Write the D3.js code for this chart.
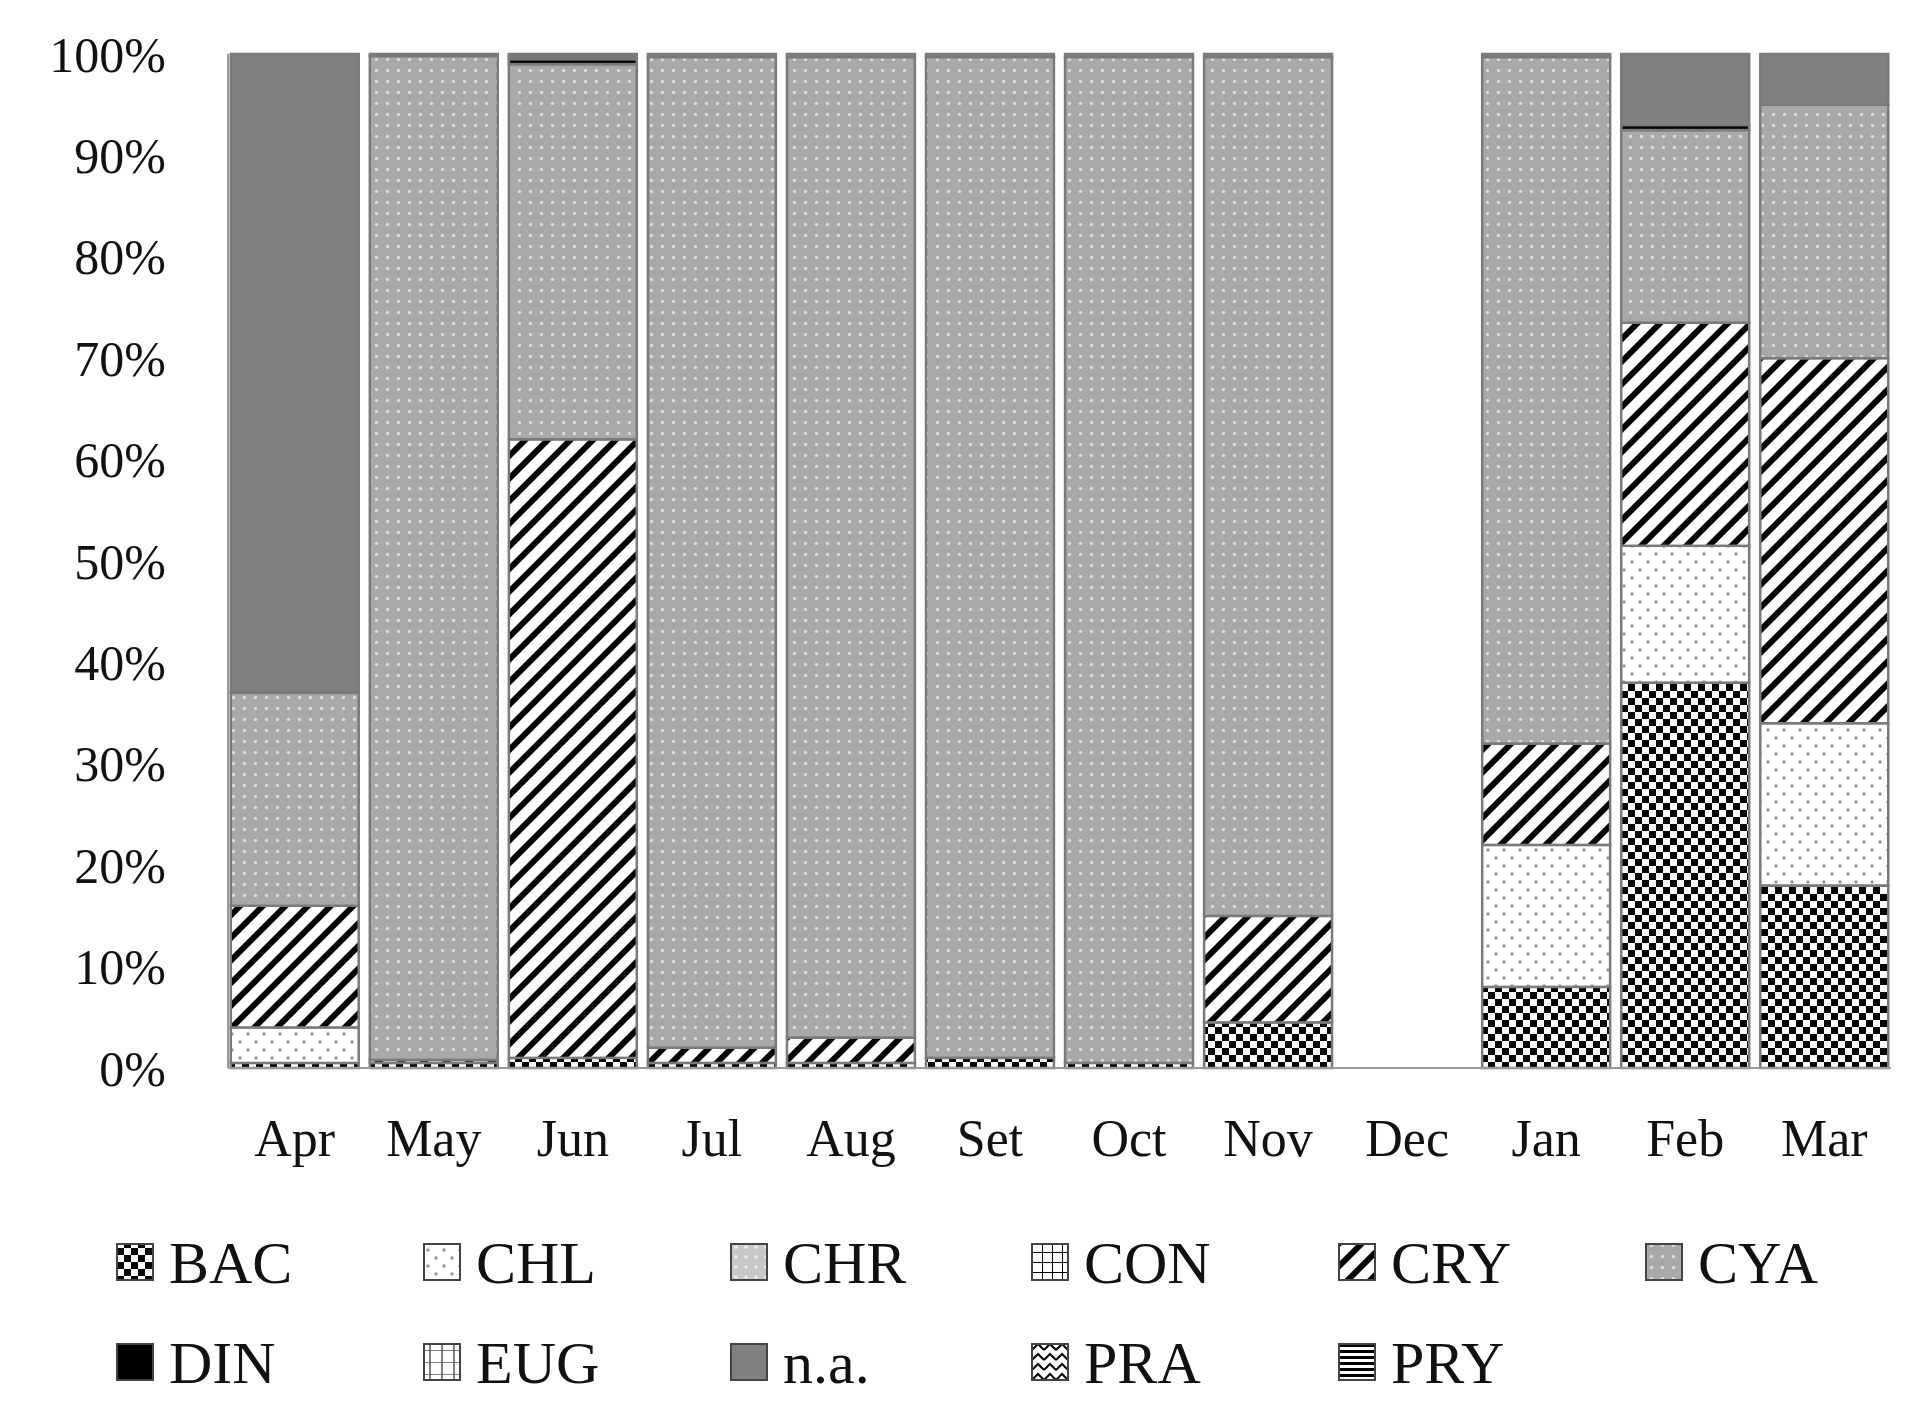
<!DOCTYPE html>
<html>
<head>
<style>
  body { margin: 0; background: #fff; }
  text { font-family: 'Liberation Serif', 'Times New Roman', serif; fill: #111; }
</style>
</head>
<body>
<svg width="1916" height="1411"></svg>
<script src="https://d3js.org/d3.v7.min.js"></script>
<script>
var months = ["Apr","May","Jun","Jul","Aug","Set","Oct","Nov","Dec","Jan","Feb","Mar"];
var groups = ["BAC","CHL","CHR","CON","CRY","CYA","DIN","EUG","n.a.","PRA","PRY"];
// percentages per group, one value per month
var BAC  = [0.5, 0.5, 1,   0.5, 0.5, 1,    0.5,  4.5, 0, 8,    38,   18];
var CHL  = [3.5, 0,   0,   0,   0,   0,    0,    0,   0, 14,   13.5, 16];
var CHR  = [0,   0,   0,   0,   0,   0,    0,    0,   0, 0,    0,    0];
var CON  = [0,   0,   0,   0,   0,   0,    0,    0,   0, 0,    0,    0];
var CRY  = [12,  0.3, 61,  1.5, 2.5, 0,    0,    10.5,0, 10,   22,   36];
var CYA  = [21,  99,  37,  97.7,96.7,98.7, 99.2, 84.7,0, 67.7, 19,   25];
var DIN  = [0,   0,   0.5, 0,   0,   0,    0,    0,   0, 0,    0.5,  0];
var EUG  = [0,   0,   0,   0,   0,   0,    0,    0,   0, 0,    0,    0];
var NA   = [63,  0.2, 0.3, 0.3, 0.3, 0.3,  0.3,  0.3, 0, 0.3,  7,    5];
var PRA  = [0,   0,   0,   0,   0,   0,    0,    0,   0, 0,    0,    0];
var PRY  = [0,   0,   0.2, 0,   0,   0,    0,    0,   0, 0,    0,    0];
var series = [BAC, CHL, CHR, CON, CRY, CYA, DIN, EUG, NA, PRA, PRY];
var yTicks = [0,10,20,30,40,50,60,70,80,90,100];

var svg = d3.select("svg");
var defs = svg.append("defs");

function pat(id, w, h, bg, draw) {
  var p = defs.append("pattern").attr("id", id).attr("patternUnits", "userSpaceOnUse")
    .attr("width", w).attr("height", h);
  p.append("rect").attr("width", w).attr("height", h).attr("fill", bg);
  draw(p);
}
pat("p-BAC", 14, 14, "#fff", function (p) {
  p.append("rect").attr("width", 7).attr("height", 7).attr("fill", "#000");
  p.append("rect").attr("x", 7).attr("y", 7).attr("width", 7).attr("height", 7).attr("fill", "#000");
});
pat("p-CHL", 16, 16, "#fff", function (p) {
  p.append("circle").attr("cx", 4).attr("cy", 4).attr("r", 1.8).attr("fill", "#999");
  p.append("circle").attr("cx", 12).attr("cy", 12).attr("r", 1.8).attr("fill", "#999");
});
pat("p-CHR", 10, 10, "#c8c8c8", function (p) {
  p.append("circle").attr("cx", 5).attr("cy", 5).attr("r", 1.8).attr("fill", "#eee");
});
pat("p-CON", 10, 10, "#fff", function (p) {
  p.append("path").attr("d", "M0,0H10M0,0V10").attr("stroke", "#000").attr("stroke-width", 2);
});
pat("p-CRY", 16, 16, "#fff", function (p) {
  p.attr("patternTransform", "rotate(45)");
  p.append("rect").attr("width", 6).attr("height", 16).attr("fill", "#000");
});
pat("p-CYA", 11, 11, "#a9a9a9", function (p) {
  p.append("circle").attr("cx", 5.5).attr("cy", 5.5).attr("r", 1.7).attr("fill", "#ddd");
});
pat("p-DIN", 10, 10, "#000", function (p) {});
pat("p-EUG", 12, 12, "#fff", function (p) {
  p.append("path").attr("d", "M0,0H12M6,0V12").attr("stroke", "#555").attr("stroke-width", 1.5);
});
pat("p-n.a.", 10, 10, "#808080", function (p) {});
pat("p-PRA", 12, 10, "#fff", function (p) {
  p.append("path").attr("d", "M0,8L6,2L12,8").attr("stroke", "#000").attr("stroke-width", 2).attr("fill", "none");
});
pat("p-PRY", 10, 6, "#fff", function (p) {
  p.append("rect").attr("width", 10).attr("height", 3).attr("fill", "#000");
});

var margin = { left: 228, right: 25, top: 54, bottom: 343 };
var width = 1916 - margin.left - margin.right;
var height = 1411 - margin.top - margin.bottom;
var g = svg.append("g").attr("transform", "translate(" + margin.left + "," + margin.top + ")");

var x = d3.scaleBand().domain(months).range([0, width]).paddingInner(0.08).paddingOuter(0.02);
var y = d3.scaleLinear().domain([0, 100]).range([height, 0]);

var rows = months.map(function (m, i) {
  var r = { month: m };
  groups.forEach(function (k, j) { r[k] = series[j][i]; });
  return r;
});
var stacked = d3.stack().keys(groups)(rows);

g.selectAll(".layer").data(stacked).enter().append("g")
  .attr("class", "layer")
  .attr("fill", function (d) { return "url(#p-" + d.key + ")"; })
  .selectAll("rect").data(function (d) { return d.filter(function (s) { return s[1] - s[0] > 0; }); })
  .enter().append("rect")
  .attr("x", function (d) { return x(d.data.month); })
  .attr("y", function (d) { return y(d[1]); })
  .attr("width", x.bandwidth())
  .attr("height", function (d) { return y(d[0]) - y(d[1]); })
  .attr("stroke", "#7a7a7a")
  .attr("stroke-width", 2.5);

// axes
g.append("line").attr("x1", 0).attr("x2", width).attr("y1", height).attr("y2", height)
  .attr("stroke", "#999").attr("stroke-width", 2);
g.append("line").attr("x1", 0).attr("x2", 0).attr("y1", 0).attr("y2", height)
  .attr("stroke", "#999").attr("stroke-width", 2);

g.selectAll(".ytick").data(yTicks).enter().append("text")
  .attr("x", -62).attr("y", function (d) { return y(d); })
  .attr("dy", "0.35em").attr("text-anchor", "end")
  .style("font-size", "50px")
  .text(function (d) { return d + "%"; });

g.selectAll(".xtick").data(months).enter().append("text")
  .attr("x", function (d) { return x(d) + x.bandwidth() / 2; })
  .attr("y", height + 88)
  .attr("text-anchor", "middle")
  .style("font-size", "52px")
  .text(function (d) { return d; });

// legend
var legCols = [117, 424, 731, 1032, 1339, 1646];
var legend = svg.selectAll(".leg").data(groups).enter().append("g")
  .attr("transform", function (d, i) {
    return "translate(" + legCols[i % 6] + "," + (1262 + Math.floor(i / 6) * 100) + ")";
  });
legend.append("rect").attr("x", 0).attr("y", -18).attr("width", 36).attr("height", 36)
  .attr("fill", function (d) { return "url(#p-" + d + ")"; })
  .attr("stroke", "#444").attr("stroke-width", 2);
legend.append("text").attr("x", 52).attr("dy", "0.35em")
  .style("font-size", "60px")
  .text(function (d) { return d; });
</script>
</body>
</html>
